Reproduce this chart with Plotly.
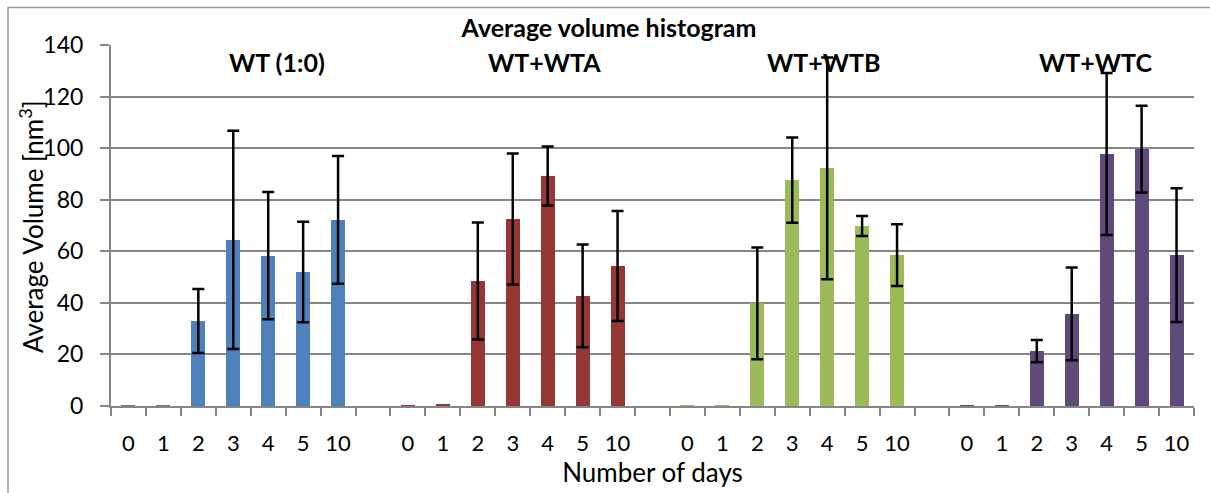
import plotly.graph_objects as go

days = ["0", "1", "2", "3", "4", "5", "10"]
groups = ["WT (1:0)", "WT+WTA", "WT+WTB", "WT+WTC"]
colors = ["#4F81BD", "#953735", "#9BBB59", "#604A7B"]

wt_vals = [0.1, 0.1, 33.0, 64.4, 58.3, 52.0, 72.2]
wt_err = [None, None, 12.4, 42.3, 24.7, 19.5, 24.8]
wta_vals = [0.1, 0.5, 48.5, 72.5, 89.2, 42.7, 54.3]
wta_err = [None, None, 22.7, 25.4, 11.4, 19.9, 21.3]
wtb_vals = [0.1, 0.1, 39.8, 87.6, 92.2, 69.8, 58.5]
wtb_err = [None, None, 21.7, 16.5, 43.0, 3.9, 12.0]
wtc_vals = [0.1, 0.1, 21.3, 35.7, 97.7, 99.6, 58.5]
wtc_err = [None, None, 4.3, 18.0, 31.4, 16.8, 25.9]

values = [wt_vals, wta_vals, wtb_vals, wtc_vals]
errors = [wt_err, wta_err, wtb_err, wtc_err]

FONT = "Lato, Carlito, Calibri, sans-serif"
slot = len(days) + 1  # one empty slot between groups

fig = go.Figure()
tickvals, ticktext = [], []
for g, (name, col, vals, errs) in enumerate(zip(groups, colors, values, errors)):
    xs = [g * slot + i for i in range(len(days))]
    tickvals += xs
    ticktext += days
    fig.add_trace(go.Bar(
        x=xs, y=vals, name=name, marker=dict(color=col, line=dict(width=0)),
        width=0.4, showlegend=False, hoverinfo="y",
    ))
    ex = [x for x, e in zip(xs, errs) if e is not None]
    ey = [v for v, e in zip(vals, errs) if e is not None]
    ee = [e for e in errs if e is not None]
    fig.add_trace(go.Scatter(
        x=ex, y=ey, mode="markers", marker=dict(size=0.1, color="rgba(0,0,0,0)"),
        error_y=dict(type="data", array=ee, visible=True, color="black",
                     thickness=2.5, width=6),
        showlegend=False, hoverinfo="skip",
    ))

nslots = len(groups) * slot - 1
grid = "#868686"

fig.update_layout(
    width=1210, height=493,
    margin=dict(l=111, r=16, t=45, b=87),
    paper_bgcolor="white", plot_bgcolor="white",
    font=dict(family=FONT, color="black"),
    bargap=0,
    title=dict(text="<b>Average volume histogram</b>", x=609 / 1210, xref="container",
               xanchor="center", y=1 - 28 / 493, yref="container", yanchor="middle",
               font=dict(size=25, family=FONT)),
    xaxis=dict(
        range=[-0.5, nslots - 0.5],
        tickmode="array", tickvals=tickvals, ticktext=ticktext,
        ticks="", showgrid=False, zeroline=False,
        showline=True, linecolor=grid, linewidth=2,
        tickfont=dict(size=22, family=FONT),
        ticklabelstandoff=17,
        minor=dict(tickmode="linear", tick0=-0.5, dtick=1, ticks="outside",
                   ticklen=8, tickwidth=2, tickcolor=grid, showgrid=False),
        title=dict(text="Number of days", font=dict(size=26, family=FONT), standoff=1),
        automargin=False,
    ),
    yaxis=dict(
        range=[0, 140], tickmode="linear", tick0=0, dtick=20,
        showgrid=True, gridcolor=grid, gridwidth=2,
        zeroline=False, showline=True, linecolor=grid, linewidth=2,
        ticks="outside", ticklen=9, tickwidth=2, tickcolor=grid,
        tickfont=dict(size=23, family=FONT),
        ticklabelstandoff=12,
        automargin=False,
    ),
)

# y-axis title
fig.add_annotation(x=(31 - 111) / 1083, y=(406 - 227) / 361, xref="paper", yref="paper",
                   text="Average Volume [nm<sup>3</sup>]", textangle=-90, showarrow=False,
                   xanchor="center", yanchor="middle",
                   font=dict(size=26, family=FONT, color="black"))

# group labels
label_x = [4.24, 11.9, 19.9, 27.67]
for name, lx in zip(groups, label_x):
    fig.add_annotation(x=lx, y=133.4, xref="x", yref="y", text=f"<b>{name}</b>",
                       showarrow=False, xanchor="center", yanchor="middle",
                       font=dict(size=25, family=FONT, color="black"))

# outer chart border
fig.add_shape(type="rect", xref="paper", yref="paper",
              x0=(8 - 111) / 1083, x1=(1220 - 111) / 1083,
              y0=(406 - 510) / 361, y1=(406 - 7.5) / 361,
              line=dict(color="#9a9a9a", width=1.5), fillcolor="rgba(0,0,0,0)", layer="below")

fig.write_html("out.html")
